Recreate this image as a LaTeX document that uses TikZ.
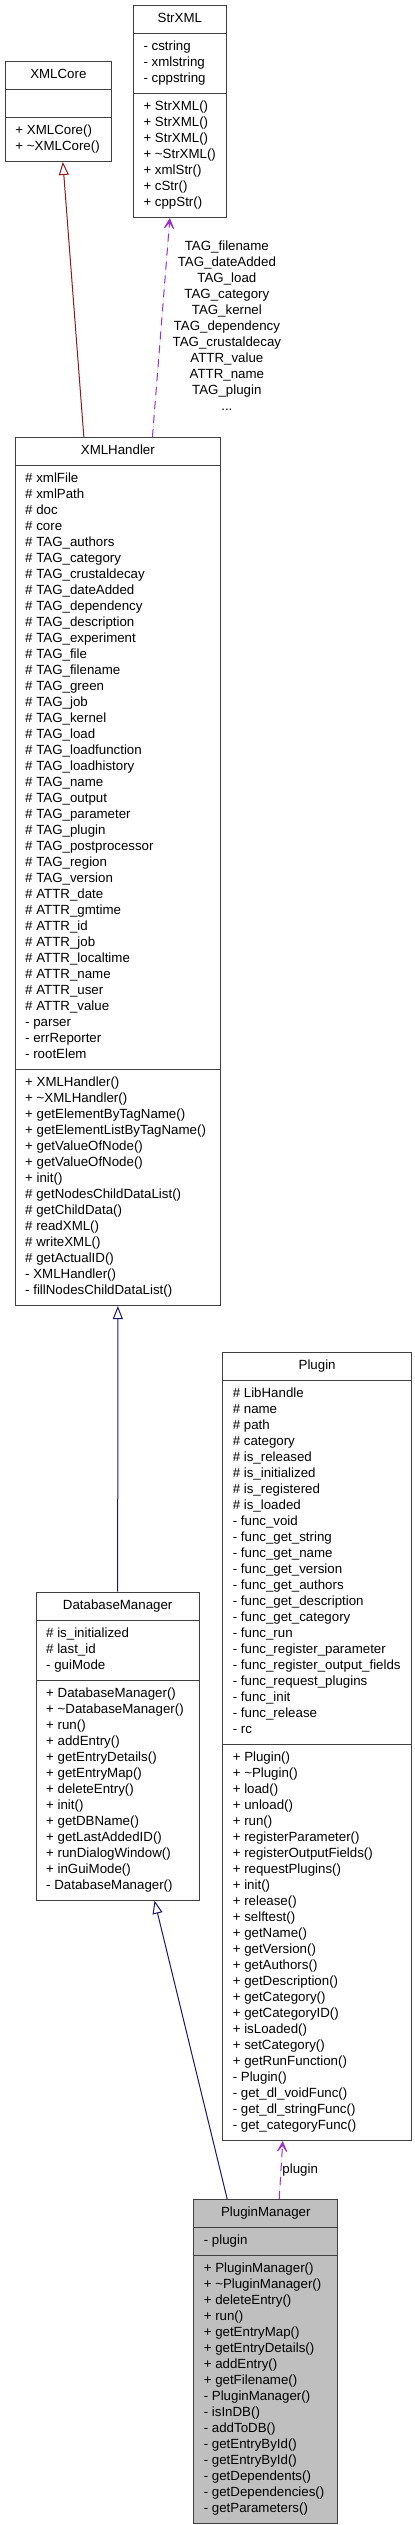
\documentclass[tikz,border=0pt]{standalone}
\usepackage{fontspec}
\setmainfont{Liberation Sans}
\usepackage{xcolor}
\usepackage{tikz}
\usetikzlibrary{arrows.meta,positioning,shapes.multipart}
\definecolor{midnight}{HTML}{191970}
\definecolor{firebrick}{HTML}{8B1A1A}
\definecolor{orchid}{HTML}{9A32CD}
\definecolor{curgray}{HTML}{BFBFBF}
\newcommand{\umlfont}{\fontsize{13.3}{16}\selectfont}
\newcommand{\ustrut}{\rule[-5pt]{0pt}{16pt}}
\tikzset{
  cls/.style={rectangle split, rectangle split parts=3, draw=black!75, line width=1pt,
              rectangle split part align={center,left,left}, anchor=north west,
              align=left, font=\umlfont, inner xsep=10pt, inner ysep=5.5pt, fill=white},
  curcls/.style={cls, fill=curgray},
  pubinh/.style={-{Triangle[open, length=13pt, width=10pt]}, draw=midnight, line width=1pt},
  privinh/.style={pubinh, draw=firebrick},
  usage/.style={-{Stealth[length=15pt, width=15pt, inset=10pt]}, draw=orchid, fill=orchid,
                line width=1pt, dash pattern=on 8pt off 6pt},
  elabel/.style={font=\umlfont, align=center, inner sep=0pt},
}
\begin{document}
\begin{tikzpicture}[x=1pt, y=1pt]
  \useasboundingbox (0,0) rectangle (415,-2525);
  \node[cls, minimum width=92.7pt] (strxml) at (133,-5) {\ustrut StrXML\ustrut
    \nodepart{two}\ustrut - cstring\\- xmlstring\\- cppstring\ustrut
    \nodepart{three}\ustrut + StrXML()\\+ StrXML()\\+ StrXML()\\+ \textasciitilde StrXML()\\%
    + xmlStr()\\+ cStr()\\+ cppStr()\ustrut};
  \node[cls, minimum width=105.7pt] (xmlcore) at (5,-61) {\ustrut XMLCore\ustrut
    \nodepart{two}\ustrut
    \nodepart{three}\ustrut + XMLCore()\\+ \textasciitilde XMLCore()\ustrut};
  \node[cls, minimum width=205.3pt] (xmlhandler) at (14.7,-437) {\ustrut XMLHandler\ustrut
    \nodepart{two}\ustrut \# xmlFile\\\# xmlPath\\\# doc\\\# core\\\# TAG\_authors\\%
    \# TAG\_category\\\# TAG\_crustaldecay\\\# TAG\_dateAdded\\\# TAG\_dependency\\%
    \# TAG\_description\\\# TAG\_experiment\\\# TAG\_file\\\# TAG\_filename\\%
    \# TAG\_green\\\# TAG\_job\\\# TAG\_kernel\\\# TAG\_load\\\# TAG\_loadfunction\\%
    \# TAG\_loadhistory\\\# TAG\_name\\\# TAG\_output\\\# TAG\_parameter\\%
    \# TAG\_plugin\\\# TAG\_postprocessor\\\# TAG\_region\\\# TAG\_version\\%
    \# ATTR\_date\\\# ATTR\_gmtime\\\# ATTR\_id\\\# ATTR\_job\\\# ATTR\_localtime\\%
    \# ATTR\_name\\\# ATTR\_user\\\# ATTR\_value\\- parser\\- errReporter\\- rootElem\ustrut
    \nodepart{three}\ustrut + XMLHandler()\\+ \textasciitilde XMLHandler()\\%
    + getElementByTagName()\\+ getElementListByTagName()\\+ getValueOfNode()\\%
    + getValueOfNode()\\+ init()\\\# getNodesChildDataList()\\\# getChildData()\\%
    \# readXML()\\\# writeXML()\\\# getActualID()\\- XMLHandler()\\%
    - fillNodesChildDataList()\ustrut};
  \node[cls, minimum width=188.7pt] (plugin) at (222.3,-1352) {\ustrut Plugin\ustrut
    \nodepart{two}\ustrut \# LibHandle\\\# name\\\# path\\\# category\\\# is\_released\\%
    \# is\_initialized\\\# is\_registered\\\# is\_loaded\\- func\_void\\%
    - func\_get\_string\\- func\_get\_name\\- func\_get\_version\\- func\_get\_authors\\%
    - func\_get\_description\\- func\_get\_category\\- func\_run\\%
    - func\_register\_parameter\\- func\_register\_output\_fields\\%
    - func\_request\_plugins\\- func\_init\\- func\_release\\- rc\ustrut
    \nodepart{three}\ustrut + Plugin()\\+ \textasciitilde Plugin()\\+ load()\\+ unload()\\%
    + run()\\+ registerParameter()\\+ registerOutputFields()\\+ requestPlugins()\\%
    + init()\\+ release()\\+ selftest()\\+ getName()\\+ getVersion()\\+ getAuthors()\\%
    + getDescription()\\+ getCategory()\\+ getCategoryID()\\+ isLoaded()\\%
    + setCategory()\\+ getRunFunction()\\- Plugin()\\- get\_dl\_voidFunc()\\%
    - get\_dl\_stringFunc()\\- get\_categoryFunc()\ustrut};
  \node[cls, minimum width=163pt] (dbmanager) at (35.7,-1591.7) {\ustrut DatabaseManager\ustrut
    \nodepart{two}\ustrut \# is\_initialized\\\# last\_id\\- guiMode\ustrut
    \nodepart{three}\ustrut + DatabaseManager()\\+ \textasciitilde DatabaseManager()\\+ run()\\%
    + addEntry()\\+ getEntryDetails()\\+ getEntryMap()\\+ deleteEntry()\\+ init()\\%
    + getDBName()\\+ getLastAddedID()\\+ runDialogWindow()\\+ inGuiMode()\\%
    - DatabaseManager()\ustrut};
  \node[curcls, minimum width=144pt] (pluginmanager) at (193.3,-2199) {\ustrut PluginManager\ustrut
    \nodepart{two}\ustrut - plugin\ustrut
    \nodepart{three}\ustrut + PluginManager()\\+ \textasciitilde PluginManager()\\+ deleteEntry()\\%
    + run()\\+ getEntryMap()\\+ getEntryDetails()\\+ addEntry()\\+ getFilename()\\%
    - PluginManager()\\- isInDB()\\- addToDB()\\- getEntryById()\\- getEntryById()\\%
    - getDependents()\\- getDependencies()\\- getParameters()\ustrut};
  % inheritance
  \draw[privinh] ([xshift=-34pt]xmlhandler.north) -- ([xshift=4.5pt]xmlcore.south);
  \draw[pubinh] (dbmanager.north) -- (xmlhandler.south);
  \draw[pubinh] ([xshift=-38.6pt]pluginmanager.north) -- ([xshift=36.8pt]dbmanager.south);
  % usage
  \draw[usage] ([xshift=34.6pt]xmlhandler.north) -- ([xshift=-10pt]strxml.south)
    node[elabel, midway, right=11pt] {\ustrut TAG\_filename\\TAG\_dateAdded\\TAG\_load\\%
      TAG\_category\\TAG\_kernel\\TAG\_dependency\\TAG\_crustaldecay\\ATTR\_value\\%
      ATTR\_name\\TAG\_plugin\\...\ustrut};
  \draw[usage] ([xshift=13.4pt]pluginmanager.north) -- ([xshift=-34.4pt]plugin.south)
    node[elabel, midway, right=1pt] {plugin};
\end{tikzpicture}
\end{document}
